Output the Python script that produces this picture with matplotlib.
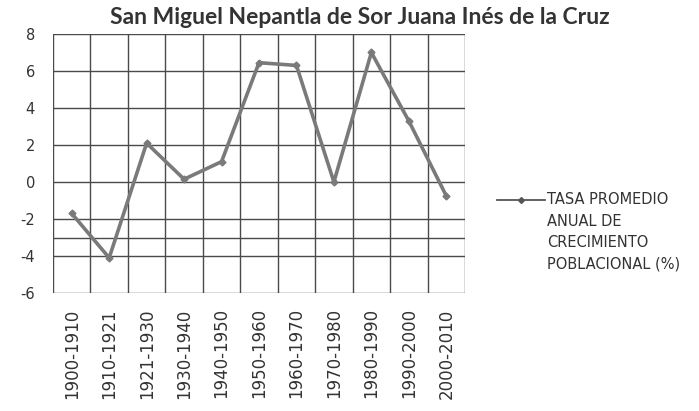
import matplotlib
matplotlib.use("Agg")
import matplotlib.pyplot as plt
from matplotlib.lines import Line2D

categories = ["1900-1910", "1910-1921", "1921-1930", "1930-1940", "1940-1950",
              "1950-1960", "1960-1970", "1970-1980", "1980-1990", "1990-2000", "2000-2010"]
values = [-1.7, -4.1, 2.1, 0.15, 1.1, 6.45, 6.3, 0.0, 7.0, 3.3, -0.75]
yticks = [-6, -4, -2, 0, 2, 4, 6, 8]
extra_gridline = -3
title = "San Miguel Nepantla de Sor Juana Inés de la Cruz"
series_label = "TASA PROMEDIO\nANUAL DE\nCRECIMIENTO\nPOBLACIONAL (%)"

plt.rcParams['font.family'] = ['DejaVu Sans']

fig = plt.figure(figsize=(6.99, 4.11), dpi=100)
ax = fig.add_axes([53/699, 1 - 293/411, (465-53)/699, (293-34)/411])

x = list(range(len(categories)))
line_color = "#7a7a7a"
ax.plot(x, values, color=line_color, lw=2.6, marker="D", ms=3.5,
        markerfacecolor=line_color, markeredgecolor=line_color, zorder=3)

ax.set_xlim(-0.5, len(categories) - 0.5)
ax.set_ylim(yticks[0], yticks[-1])
ax.set_yticks(yticks)
ax.set_yticklabels([str(t) for t in yticks], fontsize=10.5, color="#333333")
ax.set_xticks(x)
ax.set_xticklabels(categories, rotation=90, fontsize=12, color="#333333")
ax.tick_params(axis="y", length=0, pad=13)
ax.tick_params(axis="x", length=0, pad=11)

grid_color = "#4a4a4a"
for t in yticks:
    ax.axhline(t, color=grid_color, lw=1.0, zorder=1)
ax.axhline(extra_gridline, color=grid_color, lw=1.0, zorder=1)
for b in range(len(categories) + 1):
    ax.axvline(b - 0.5, color=grid_color, lw=1.0, zorder=1)

for s in ax.spines.values():
    s.set_visible(False)

fig.text(360/699, 1 - 17/411, title, ha="center", va="center",
         fontsize=16.5, fontweight="bold", color="#333333", family=["Lato", "DejaVu Sans"])

fig.add_artist(Line2D([497/699, 545/699], [1 - 200/411, 1 - 200/411],
                      color="#555555", lw=1.3, marker=None))
fig.add_artist(Line2D([521/699], [1 - 200/411], color="#555555",
                      marker="D", ms=3, lw=0))
fig.text(547/699, 1 - 192/411, series_label, ha="left", va="top",
         fontsize=10.5, color="#333333", linespacing=1.55)

fig.savefig("out.png", dpi=100, facecolor="white")
